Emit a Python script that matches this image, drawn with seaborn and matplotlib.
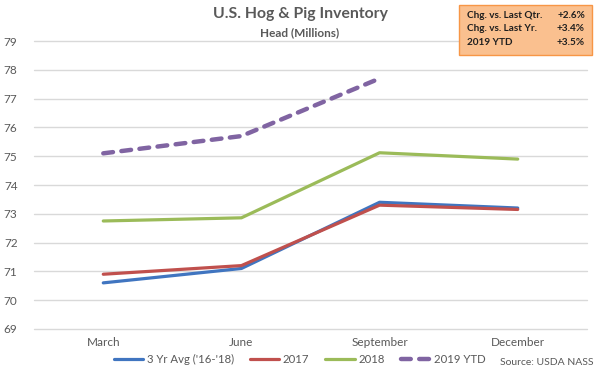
import pandas as pd
import seaborn as sns
import matplotlib.pyplot as plt
from matplotlib.patches import Rectangle

# ===== Data =====
quarters = ["March", "June", "September", "December"]
avg_3yr = [70.6, 71.1, 73.4, 73.2]
y2017 = [70.9, 71.2, 73.3, 73.15]
y2018 = [72.75, 72.86, 75.12, 74.9]
y2019 = [75.1, 75.7, 77.7]
series_names = ["3 Yr Avg ('16-'18)", "2017", "2018", "2019 YTD"]
colors = ["#4075C0", "#C0504D", "#9BBB59", "#8064A2"]
box_labels = ["Chg. vs. Last Qtr.", "Chg. vs. Last Yr.", "2019 YTD"]
box_values = ["+2.6%", "+3.4%", "+3.5%"]

rows = []
for name, vals in zip(series_names, [avg_3yr, y2017, y2018, y2019]):
    for q, v in zip(quarters, vals):
        rows.append({"quarter": q, "head": v, "series": name})
df = pd.DataFrame(rows)
df["quarter"] = pd.Categorical(df["quarter"], categories=quarters, ordered=True)
df["x"] = df["quarter"].cat.codes

sns.set_style("white")
plt.rcParams['font.family'] = ['Lato', 'DejaVu Sans']
fig = plt.figure(figsize=(6, 3.7), dpi=100)
ax = fig.add_axes([0.057, 0.111, 0.921, 0.778])

sns.lineplot(data=df, x="x", y="head", hue="series", style="series",
             palette=colors, dashes={series_names[0]: "", series_names[1]: "",
                                     series_names[2]: "", series_names[3]: (2.2, 1.9)},
             linewidth=2.3, ax=ax, sort=False)
for ln in ax.get_lines():
    ln.set_solid_capstyle("round")
    ln.set_dash_capstyle("round")
    if ln.get_linestyle() != "-":
        ln.set_linewidth(3.2)

ax.set_xlim(-0.5, 3.5)
ax.set_ylim(69, 79)
ax.set_yticks(range(69, 80))
ax.set_xticks(range(4))
ax.set_xticklabels(quarters)
ax.set_xlabel("")
ax.set_ylabel("")
ax.grid(axis="y", color="#D9D9D9", linewidth=1)
for gl in ax.get_ygridlines():
    gl.set_clip_on(False)
ax.set_axisbelow(True)
for s in ax.spines.values():
    s.set_visible(False)
ax.tick_params(axis="both", length=0, labelsize=8.5, colors="#595959", pad=6)
ax.tick_params(axis="y", pad=12)

handles, labels = ax.get_legend_handles_labels()
for h in handles:
    if h.get_linestyle() != "-":
        h.set_linewidth(3.2)
ax.legend(handles, labels, loc="center", bbox_to_anchor=(0.48, -0.105),
          ncol=4, frameon=False, fontsize=8.2, handlelength=2.6,
          columnspacing=1.4, handletextpad=0.3, labelcolor="#595959",
          borderpad=0)

fig.text(0.5, 0.963, "U.S. Hog & Pig Inventory", ha="center", va="center",
         fontsize=11.3, fontweight="bold", color="#595959")
fig.text(0.5, 0.913, "Head (Millions)", ha="center", va="center",
         fontsize=8.5, fontweight="bold", color="#595959")
fig.text(0.99, 0.02, "Source: USDA NASS", ha="right", va="center",
         fontsize=7.5, color="#595959")

# summary box (top right)
fig.patches.append(Rectangle((0.765, 0.851), 0.222, 0.135, transform=fig.transFigure,
                             facecolor="#FAC08F", edgecolor="#F79646", linewidth=1))
for i, (lab, val) in enumerate(zip(box_labels, box_values)):
    yy = 0.959 - i * 0.037
    fig.text(0.778, yy, lab, ha="left", va="center", fontsize=7.2,
             fontweight="bold", color="#1F1F1F")
    fig.text(0.975, yy, val, ha="right", va="center", fontsize=7.2,
             fontweight="bold", color="#1F1F1F")

fig.savefig("out.png", dpi=100)
